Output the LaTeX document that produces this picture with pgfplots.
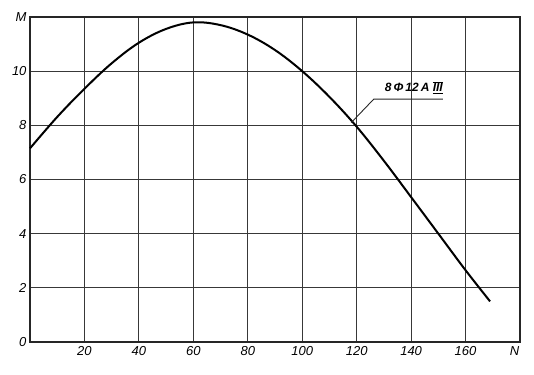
\documentclass[border=0pt]{standalone}
\usepackage{fontspec}
\setmainfont{Liberation Sans}
\setsansfont{Liberation Sans}
\usepackage{pgfplots}
\pgfplotsset{compat=1.18}
\begin{document}
\begin{tikzpicture}
\begin{axis}[
  scale only axis, width=490pt, height=325pt,
  xmin=0, xmax=180, ymin=0, ymax=12,
  xtick={20,40,60,80,100,120,140,160},
  xticklabels={20,40,60,80,100,120,140,160},
  ytick={0,2,4,6,8,10,12},
  yticklabels={0,2,4,6,8,10,M},
  grid=major,
  grid style={line width=1.1pt, color=black!78},
  axis line style={line width=1.4pt, color=black!85},
  tick style={draw=none},
  /pgf/number format/assume math mode=true,
  ticklabel style={font=\fontsize{13}{13}\selectfont\itshape},
  xticklabel style={yshift=-1pt},
  yticklabel style={xshift=0pt},
  clip=false,
]
\addplot[black, line width=2pt, smooth, tension=0.6] coordinates {
  (0,7.15) (10,8.31) (20,9.35) (30,10.29) (40,11.05) (50,11.56) (60,11.8)
  (70,11.7) (80,11.35) (90,10.78) (100,10.0) (110,9.05) (120,7.95)
  (130,6.69) (140,5.35) (150,4.0) (160,2.65) (169,1.5)
};
\draw[line width=0.9pt, black!85] (axis cs:118,8.1) -- (axis cs:126.3,8.97) -- (axis cs:151.7,8.97);
\node[font=\fontsize{12}{12}\selectfont\itshape\bfseries, inner sep=0pt] at (axis cs:141,9.4)
  {8\,Φ\,12\,A\ \ensuremath{\overline{\underline{\hbox{\itshape\bfseries III}}}}};
\node[font=\fontsize{13}{13}\selectfont\itshape, anchor=north, inner sep=.333em, yshift=-1pt] at (axis cs:178,0) {N};
\end{axis}
\pgfresetboundingbox
\path (-30pt,-32pt) rectangle (504pt,342pt);
\end{tikzpicture}
\end{document}
